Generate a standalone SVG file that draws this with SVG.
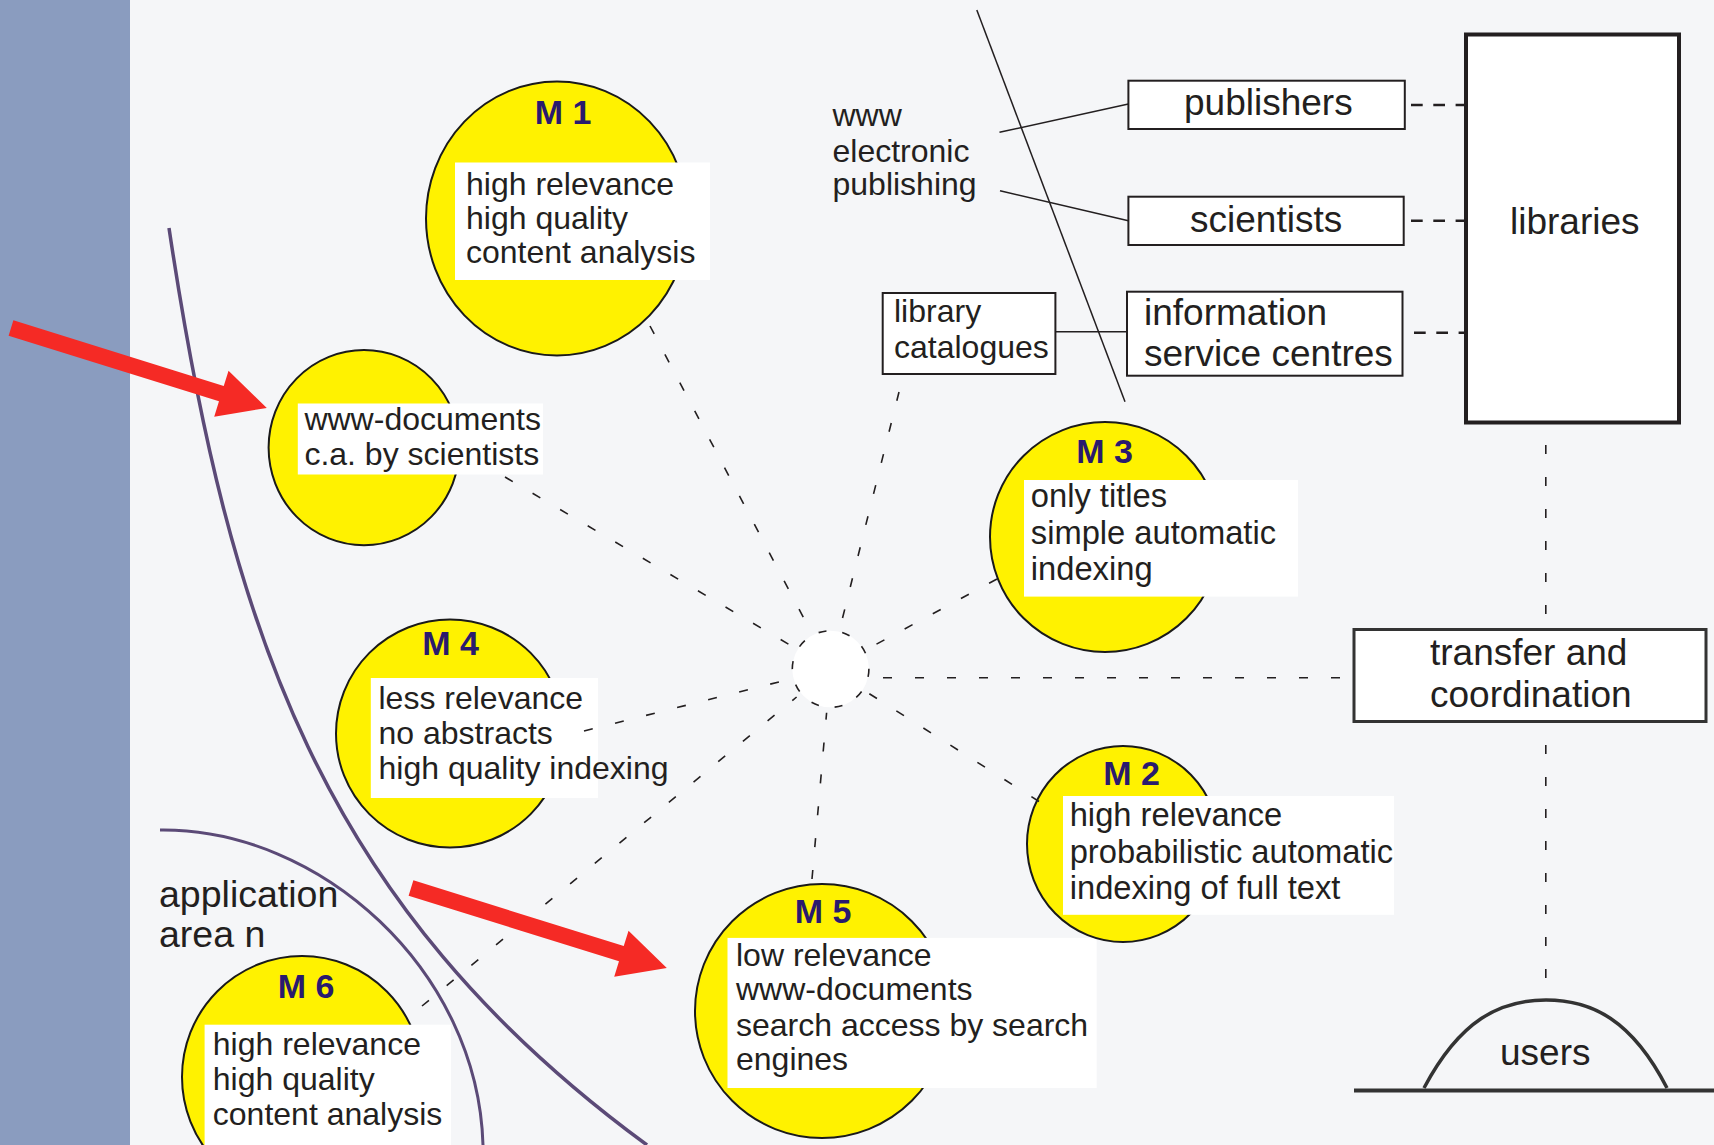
<svg xmlns="http://www.w3.org/2000/svg" width="1714" height="1145" viewBox="0 0 1714 1145">
<defs>
<style>
.t{font-family:"Liberation Sans",Arial,sans-serif;fill:#231f20;font-size:32px}
.r{font-size:32.7px}
.b{font-size:37px}
.a{font-size:37.5px}
.m{font-family:"Liberation Sans",Arial,sans-serif;font-weight:bold;font-size:34px;fill:#2a1a6e;text-anchor:middle}
.ell{fill:#fff200;stroke:#1a1a1a;stroke-width:2}
.wb{fill:#ffffff}
.box{fill:#ffffff;stroke:#231f20;stroke-width:2}
.ray{stroke:#231f20;stroke-width:1.6;stroke-dasharray:9 23;fill:none}
.lib{stroke:#231f20;stroke-width:2.6;stroke-dasharray:11.7 10.6;fill:none}
.ln{stroke:#231f20;stroke-width:1.5;fill:none}
.arc{stroke:#5b4a77;fill:none}
.arrow{fill:#f52a25}
</style>
</defs>
<rect x="0" y="0" width="1714" height="1145" fill="#f5f6f8"/>
<rect x="0" y="0" width="130" height="1145" fill="#8a9cbf"/>

<g id="boundaries">
<path class="arc" stroke-width="3.5" d="M169,228 C229,628 320,905 647,1145"/>
<path class="arc" stroke-width="3" d="M160,830 C320,828 478,970 483,1145"/>
<text class="t a" x="159" y="907">application</text>
<text class="t a" x="159" y="947">area n</text>
</g>

<g id="M1">
<ellipse class="ell" cx="557" cy="218.5" rx="131" ry="137"/>
<text class="m" x="563" y="124">M 1</text>
<rect class="wb" x="455" y="162.5" width="255" height="117.5"/>
<text class="t" x="466" y="194.5">high relevance</text>
<text class="t" x="466" y="229">high quality</text>
<text class="t" x="466" y="262.5">content analysis</text>
</g>

<g id="www-documents">
<ellipse class="ell" cx="364" cy="447.6" rx="95.4" ry="97.6"/>
<rect class="wb" x="297.8" y="403.5" width="245.2" height="71"/>
<text class="t" x="304.4" y="430">www-documents</text>
<text class="t" x="304.4" y="465.3">c.a. by scientists</text>
</g>

<g id="M4">
<ellipse class="ell" cx="450" cy="733.5" rx="114" ry="114"/>
<text class="m" x="450.5" y="655">M 4</text>
<rect class="wb" x="370.8" y="678" width="227.2" height="120"/>
<text class="t" x="378.5" y="708.6">less relevance</text>
<text class="t" x="378.5" y="744">no abstracts</text>
<text class="t" x="378.5" y="779">high quality indexing</text>
</g>

<g id="M6">
<ellipse class="ell" cx="302" cy="1077" rx="120" ry="121"/>
<text class="m" x="306" y="998.3">M 6</text>
<rect class="wb" x="204.6" y="1024.7" width="246.4" height="120.3"/>
<text class="t" x="212.8" y="1054.8">high relevance</text>
<text class="t" x="212.8" y="1090">high quality</text>
<text class="t" x="212.8" y="1124.5">content analysis</text>
</g>

<g id="M5">
<ellipse class="ell" cx="822" cy="1011" rx="127" ry="127"/>
<text class="m" x="823" y="923">M 5</text>
<rect class="wb" x="727.5" y="937.9" width="369.2" height="150.1"/>
<text class="t" x="736" y="965.6">low relevance</text>
<text class="t" x="736" y="1000.3">www-documents</text>
<text class="t" x="736" y="1036">search access by search</text>
<text class="t" x="736" y="1069.7">engines</text>
</g>

<g id="M2">
<ellipse class="ell" cx="1123" cy="844" rx="96" ry="98"/>
<text class="m" x="1131.7" y="785.3">M 2</text>
<rect class="wb" x="1063" y="796" width="331" height="118.8"/>
<text class="t r" x="1069.7" y="826">high relevance</text>
<text class="t r" x="1069.7" y="863">probabilistic automatic</text>
<text class="t r" x="1069.7" y="898.6">indexing of full text</text>
</g>

<g id="M3">
<ellipse class="ell" cx="1105" cy="537" rx="115" ry="115"/>
<text class="m" x="1104.5" y="462.5">M 3</text>
<rect class="wb" x="1024" y="480" width="274" height="116.6"/>
<text class="t r" x="1030.8" y="507">only titles</text>
<text class="t r" x="1030.8" y="544">simple automatic</text>
<text class="t r" x="1030.8" y="579.5">indexing</text>
</g>

<g id="hub">
<circle cx="830.6" cy="669" r="38.3" fill="#ffffff" stroke="#231f20" stroke-width="1.6" stroke-dasharray="8 16"/>
</g>

<g id="www-electronic-publishing">
<text class="t" x="832.5" y="126">www</text>
<text class="t" x="832.5" y="162">electronic</text>
<text class="t" x="832.5" y="195">publishing</text>
</g>

<g id="publishers">
<rect class="box" x="1128.4" y="80.7" width="276.4" height="48.3"/>
<text class="t b" x="1184" y="115">publishers</text>
</g>

<g id="scientists">
<rect class="box" x="1128.4" y="196.7" width="275.3" height="48.3"/>
<text class="t b" x="1190" y="232">scientists</text>
</g>

<g id="information-service-centres">
<rect class="box" x="1127" y="291.7" width="275.5" height="84"/>
<text class="t b" x="1144" y="325">information</text>
<text class="t b" x="1144" y="366">service centres</text>
</g>

<g id="library-catalogues">
<rect class="box" x="882.7" y="293" width="172.7" height="81"/>
<text class="t" x="894" y="322">library</text>
<text class="t" x="894" y="358.3">catalogues</text>
</g>

<g id="libraries">
<rect x="1466" y="34.5" width="213" height="388" fill="#ffffff" stroke="#231f20" stroke-width="4"/>
<text class="t b" x="1510" y="234">libraries</text>
</g>

<g id="transfer-and-coordination">
<rect x="1354" y="629.5" width="352" height="92" fill="#ffffff" stroke="#333333" stroke-width="3"/>
<text class="t b" x="1430" y="665">transfer and</text>
<text class="t b" x="1430" y="707">coordination</text>
</g>

<g id="users">
<path d="M1424,1088 C1460,1020 1500,1000 1546,1000 C1592,1000 1632,1020 1667,1088" fill="none" stroke="#333333" stroke-width="3.5"/>
<line x1="1354" y1="1090.5" x2="1714" y2="1090.5" stroke="#333333" stroke-width="4"/>
<text class="t b" x="1500" y="1065">users</text>
</g>

<g id="connectors">
<line class="ln" x1="976.8" y1="10" x2="1125" y2="401.7" stroke-width="1.2"/>
<line class="ln" x1="999.5" y1="132.3" x2="1128.4" y2="104"/>
<line class="ln" x1="1000" y1="190.7" x2="1128.4" y2="220.7"/>
<line class="ln" x1="1055.4" y1="331.7" x2="1127" y2="331.7"/>
<line class="lib" x1="1411" y1="105" x2="1465" y2="105"/>
<line class="lib" x1="1411" y1="220.7" x2="1465" y2="220.7"/>
<line class="lib" x1="1414" y1="332.7" x2="1465" y2="332.7"/>
<line class="ray" x1="1545.8" y1="445" x2="1545.8" y2="628" stroke-width="2"/>
<line class="ray" x1="1545.8" y1="745" x2="1545.8" y2="1000" stroke-width="2"/>
<line class="ray" x1="883" y1="677.7" x2="1352" y2="677.7" stroke-width="2"/>
<line class="ray" x1="650" y1="326" x2="810" y2="630"/>
<line class="ray" x1="505" y1="477" x2="792.6" y2="646.6"/>
<line class="ray" x1="899" y1="392" x2="840.5" y2="626.2"/>
<line class="ray" x1="997" y1="579" x2="869.2" y2="648.1"/>
<line class="ray" x1="1039" y1="801.5" x2="867.6" y2="692.6"/>
<line class="ray" x1="812" y1="879" x2="826.6" y2="712.8"/>
<line class="ray" x1="422" y1="1006" x2="796.6" y2="697"/>
<line class="ray" x1="584" y1="731" x2="787.8" y2="679.7"/>
</g>

<g id="arrows">
<polygon class="arrow" transform="translate(11,328) rotate(17.35)" points="0,-8 220.4,-8 220.4,-24 268,0 220.4,24 220.4,8 0,8"/>
<polygon class="arrow" transform="translate(411,888) rotate(17.35)" points="0,-8 220.4,-8 220.4,-24 268,0 220.4,24 220.4,8 0,8"/>
</g>
</svg>
